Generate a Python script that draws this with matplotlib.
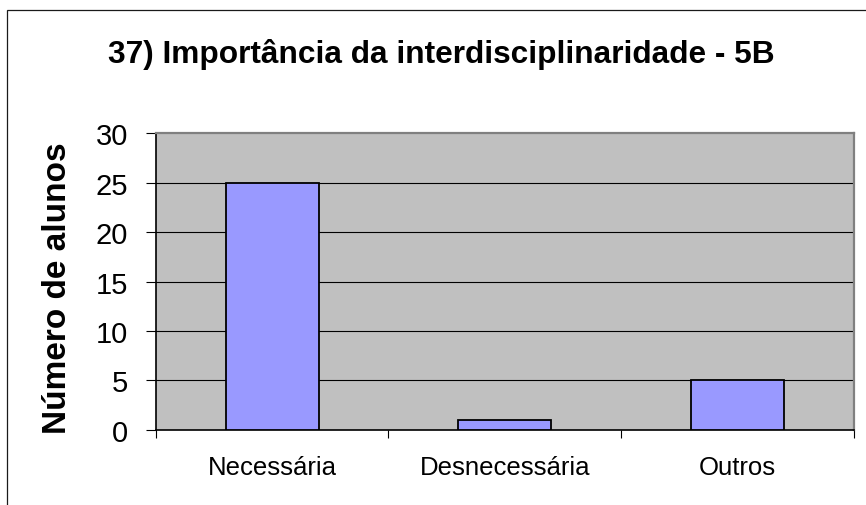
import matplotlib
matplotlib.use("Agg")
import matplotlib.pyplot as plt
from matplotlib.patches import Rectangle

categories = ["Necessária", "Desnecessária", "Outros"]
alunos = [25, 1, 5]
y_ticks = [0, 5, 10, 15, 20, 25, 30]

title = "37) Importância da interdisciplinaridade - 5B"
y_title = "Número de alunos"

plt.rcParams["font.family"] = ["Liberation Sans", "DejaVu Sans"]

W, H = 866, 506
fig = plt.figure(figsize=(W / 100, H / 100), dpi=100)
fig.patch.set_facecolor("white")

# outer chart frame (runs off the right and bottom edges)
fig.add_artist(Rectangle((7.5 / W, -0.2), 1.2, (H - 10.5) / H + 0.2,
                         transform=fig.transFigure, fill=False,
                         ec="#1a1a1a", lw=0.9))

left, right, top, bottom = 155.7, 854.0, 134.3, 430.7
ax = fig.add_axes([left / W, 1 - bottom / H, (right - left) / W, (bottom - top) / H])
ax.set_facecolor("#C0C0C0")

n = len(categories)
centers = [i + 0.5 for i in range(n)]
ax.bar(centers, alunos, width=0.4, color="#9999FF", edgecolor="black",
       linewidth=1.3, zorder=3)

ax.set_xlim(0, n)
ax.set_ylim(0, 30)
ax.set_yticks(y_ticks)
ax.set_yticklabels([str(v) for v in y_ticks])
for v in y_ticks[1:-1]:
    ax.axhline(v, color="black", lw=0.8, zorder=1)

ax.set_xticks(range(n + 1))
ax.set_xticklabels([])
ax.set_xticks(centers, minor=True)
ax.set_xticklabels(categories, minor=True)
ax.tick_params(axis="x", which="major", direction="out", length=6, width=0.8,
               color="black")
ax.tick_params(axis="x", which="minor", length=0, pad=18.5, labelsize=18.5)
ax.tick_params(axis="y", direction="out", length=7.2, width=0.8,
               pad=12.5, labelsize=21, color="black")

for side in ("left", "bottom"):
    ax.spines[side].set_color("black")
    ax.spines[side].set_linewidth(1.2)
for side in ("top", "right"):
    ax.spines[side].set_color("#808080")
    ax.spines[side].set_linewidth(1.6)

ax.set_ylabel(y_title, fontsize=24, fontweight="bold")
ax.yaxis.set_label_coords(-0.119, 0.48)

fig.text(441 / W, 1 - 63 / H, title, ha="center", va="baseline",
         fontsize=22.8, fontweight="bold")

fig.savefig("out.png", dpi=100)
